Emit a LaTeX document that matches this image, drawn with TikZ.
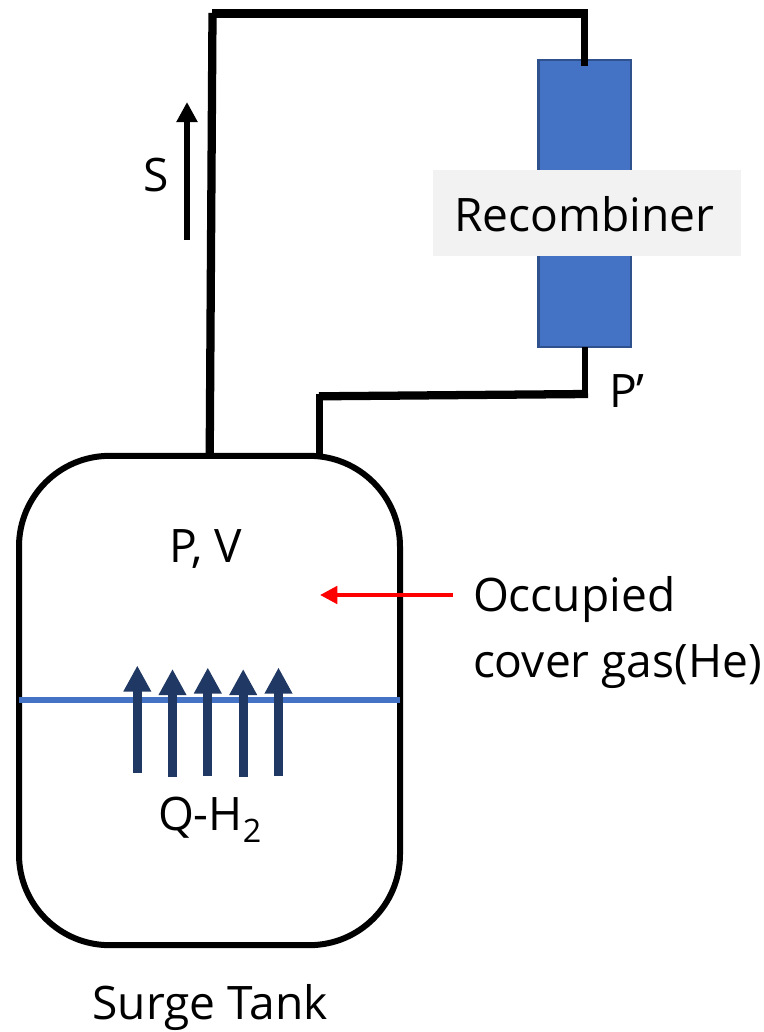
\documentclass[tikz,border=0pt]{standalone}
\usepackage{fontspec}
\setmainfont{Open Sans}
\usetikzlibrary{arrows.meta}
\definecolor{blockblue}{HTML}{4472C4}
\definecolor{blockedge}{HTML}{2F528F}
\definecolor{labelgrey}{HTML}{F2F2F2}
\definecolor{levelblue}{HTML}{4472C4}
\definecolor{arrownavy}{HTML}{1F3864}
\tikzset{
  pipe/.style={draw=black,line width=6.2pt,line cap=butt,line join=miter},
  thinpipe/.style={draw=black,line width=5pt,line cap=butt,line join=miter},
  txt/.style={font=\fontsize{34.6}{40}\selectfont,text=black,inner sep=0pt,outer sep=0pt},
  up/.style={draw=arrownavy,line width=6.75pt,-{Triangle[length=19.5pt,width=19.5pt]}},
}
\begin{document}
\begin{tikzpicture}[x=0.75pt,y=-0.75pt]
\useasboundingbox (0,0) rectangle (764,1032);
% recombiner block
\node[draw=blockedge,fill=blockblue,line width=1.8pt,minimum width=69.4pt,minimum height=215.5pt,inner sep=0pt,outer sep=0pt] (block) at (584.7,203.5) {};
\node[fill=labelgrey,minimum width=231pt,minimum height=64.5pt,inner sep=0pt,outer sep=0pt] (reclabel) at (587,213) {};
\node[txt] (rectext) at (584.5,214) {Recombiner};
% tank
\node[draw=black,line width=4.5pt,rounded corners=68pt,minimum width=285.75pt,minimum height=367pt,inner sep=0pt,outer sep=0pt,fill=white] (tank) at (209.5,700.5) {};
% pipes
\coordinate (a1) at (209.7,457);
\coordinate (a2) at (212.5,13);
\coordinate (a3) at (212,13.5);
\coordinate (a4) at (588,13.5);
\coordinate (a5) at (584.5,10);
\coordinate (a6) at (584.5,65.7);
\coordinate (b1) at (319.7,457);
\coordinate (b2) at (319.7,394);
\coordinate (b3) at (319,396.3);
\coordinate (b4) at (588,394);
\coordinate (b5) at (585,398);
\coordinate (b6) at (585,347);
\draw[pipe] (a1) -- (a2);
\draw[pipe] (a3) -- (a4);
\draw[thinpipe] (a5) -- (a6);
\draw[thinpipe] (b1) -- (b2);
\draw[pipe] (b3) -- (b4);
\draw[thinpipe] (b5) -- (b6);
% S arrow
\coordinate (s1) at (187,240);
\coordinate (s2) at (187,102);
\draw[draw=black,line width=5pt,-{Triangle[length=15pt,width=15pt]}] (s1) -- (s2);
\node[txt] (S) at (156,175) {S};
\node[txt] (Pp) at (627,391) {P’};
\node[txt] (PV) at (206,549) {P, V};
% level
\coordinate (l1) at (19,700);
\coordinate (l2) at (400,700);
\draw[draw=levelblue,line width=4.5pt] (l1) -- (l2);
% arrows
\coordinate (u1a) at (137.3,773); \coordinate (u1b) at (137.3,665.5);
\coordinate (u2a) at (172.5,776.5); \coordinate (u2b) at (172.5,669);
\coordinate (u3a) at (207.8,775.5); \coordinate (u3b) at (207.8,667.5);
\coordinate (u4a) at (243.2,776.5); \coordinate (u4b) at (243.2,669);
\coordinate (u5a) at (278.5,775.5); \coordinate (u5b) at (278.5,667.5);
\draw[up] (u1a) -- (u1b);
\draw[up] (u2a) -- (u2b);
\draw[up] (u3a) -- (u3b);
\draw[up] (u4a) -- (u4b);
\draw[up] (u5a) -- (u5b);
\node[txt] (Q) at (210,820) {Q-H\textsubscript{2}};
% occupied
\coordinate (r1) at (453,595);
\coordinate (r2) at (320,595);
\draw[draw=red,line width=3pt,-{Triangle[length=13pt,width=13pt]}] (r1) -- (r2);
\node[txt,anchor=west] (O1) at (473,600) {Occupied};
\node[txt,anchor=west] (O2) at (473,667) {cover gas(He)};
\node[txt] (ST) at (210,1008) {Surge Tank};
\end{tikzpicture}
\end{document}
